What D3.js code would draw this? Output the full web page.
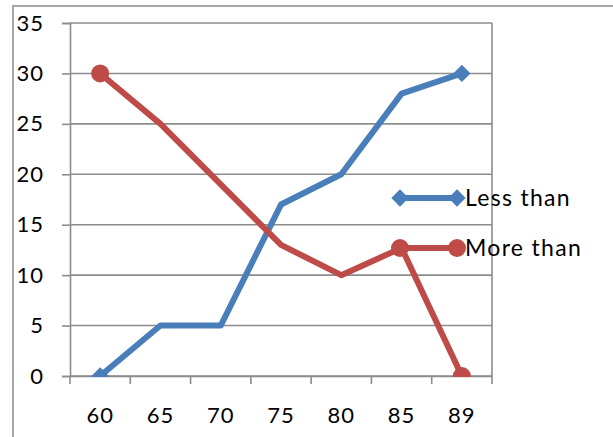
<!DOCTYPE html>
<html>
<head>
<meta charset="utf-8">
<script src="https://cdn.jsdelivr.net/npm/d3@7"></script>
<style>
  html, body { margin: 0; padding: 0; background: #fff; }
  svg { display: block; }
  text { font-family: Lato, "Open Sans", sans-serif; fill: #000; }
</style>
</head>
<body>
<svg id="chart" width="613" height="437"></svg>
<script>
// Cumulative frequency ogives
const categories = ["60", "65", "70", "75", "80", "85", "89"];
const lessThan = [0, 5, 5, 17, 20, 28, 30];
const moreThan = [30, 25, 19, 13, 10, 12.7, 0];
const yTicks = [0, 5, 10, 15, 20, 25, 30, 35];
const seriesNames = ["Less than", "More than"];
const seriesColors = ["#4A7EBB", "#BE4B48"];

const svg = d3.select("#chart");
const plot = { left: 70, top: 23, right: 492, bottom: 376 };

const x = d3.scaleBand().domain(categories).range([plot.left, plot.right]).padding(0);
const y = d3.scaleLinear().domain([0, 35]).range([plot.bottom, plot.top]);
const cx = c => x(c) + x.bandwidth() / 2;

// chart frame
svg.append("path")
  .attr("d", `M13,437 V6 H613`)
  .attr("fill", "none").attr("stroke", "#a6a6a6").attr("stroke-width", 2);

// horizontal gridlines
svg.append("g").selectAll("line").data(yTicks).join("line")
  .attr("x1", plot.left).attr("x2", plot.right)
  .attr("y1", d => y(d)).attr("y2", d => y(d))
  .attr("stroke", "#8c8c8c").attr("stroke-width", 1.6);

// plot area right edge
svg.append("line")
  .attr("x1", plot.right).attr("x2", plot.right)
  .attr("y1", plot.top).attr("y2", plot.bottom)
  .attr("stroke", "#8c8c8c").attr("stroke-width", 1.6);

// y axis
const yAxis = svg.append("g")
  .attr("transform", `translate(${plot.left},0)`)
  .call(d3.axisLeft(y).tickValues(yTicks).tickSize(8).tickPadding(18).tickFormat(d3.format("d")));
yAxis.selectAll("line, path").attr("stroke", "#8c8c8c").attr("stroke-width", 1.6);
yAxis.selectAll("text").attr("font-size", 22).attr("font-family", "Lato, sans-serif").attr("letter-spacing", 1).attr("fill", "#000");

// x axis: labels at category centres, tick marks at category boundaries
const xAxis = svg.append("g")
  .attr("transform", `translate(0,${plot.bottom})`)
  .call(d3.axisBottom(x).tickSize(0).tickPadding(31));
xAxis.select(".domain").attr("stroke", "#8c8c8c").attr("stroke-width", 1.6);
xAxis.selectAll("text").attr("font-size", 22).attr("font-family", "Lato, sans-serif").attr("letter-spacing", 1).attr("fill", "#000");
const boundaries = categories.map(c => x(c)).concat([x(categories[categories.length - 1]) + x.bandwidth()]);
svg.append("g").selectAll("line").data(boundaries).join("line")
  .attr("x1", d => d).attr("x2", d => d)
  .attr("y1", plot.bottom).attr("y2", plot.bottom + 8)
  .attr("stroke", "#8c8c8c").attr("stroke-width", 1.6);

// clip series to plot area
svg.append("clipPath").attr("id", "plotClip")
  .append("rect").attr("x", plot.left - 20).attr("y", 0)
  .attr("width", plot.right - plot.left + 40).attr("height", plot.bottom + 1);

const line = d3.line().x(d => cx(d.c)).y(d => y(d.v));
const series = [lessThan, moreThan].map(vals => categories.map((c, i) => ({ c, v: vals[i] })));
// square marker turned 45 degrees
const diamond = d3.symbol().type(d3.symbolSquare).size(150);
const diamondAt = (px, py) => `translate(${px},${py}) rotate(45)`;

const g = svg.append("g").attr("clip-path", "url(#plotClip)");
series.forEach((pts, si) => {
  g.append("path").datum(pts)
    .attr("d", line).attr("fill", "none")
    .attr("stroke", seriesColors[si]).attr("stroke-width", 6)
    .attr("stroke-linejoin", "round");
  const ends = [pts[0], pts[pts.length - 1]];
  if (si === 0) {
    g.selectAll(null).data(ends).join("path")
      .attr("d", diamond)
      .attr("transform", d => diamondAt(cx(d.c), y(d.v)))
      .attr("fill", seriesColors[si]);
  } else {
    g.selectAll(null).data(ends).join("circle")
      .attr("cx", d => cx(d.c)).attr("cy", d => y(d.v)).attr("r", 9)
      .attr("fill", seriesColors[si]);
  }
});

// legend
const legend = svg.append("g");
const legendY = [198, 248];
seriesNames.forEach((name, i) => {
  const ly = legendY[i];
  legend.append("line")
    .attr("x1", 400).attr("x2", 457).attr("y1", ly).attr("y2", ly)
    .attr("stroke", seriesColors[i]).attr("stroke-width", 6);
  [400, 457].forEach(lx => {
    if (i === 0) {
      legend.append("path").attr("d", diamond)
        .attr("transform", diamondAt(lx, ly)).attr("fill", seriesColors[i]);
    } else {
      legend.append("circle").attr("cx", lx).attr("cy", ly).attr("r", 9).attr("fill", seriesColors[i]);
    }
  });
  legend.append("text")
    .attr("x", 465).attr("y", ly).attr("dy", "0.35em")
    .attr("font-size", 23).attr("letter-spacing", 1.3)
    .text(name);
});
</script>
</body>
</html>
